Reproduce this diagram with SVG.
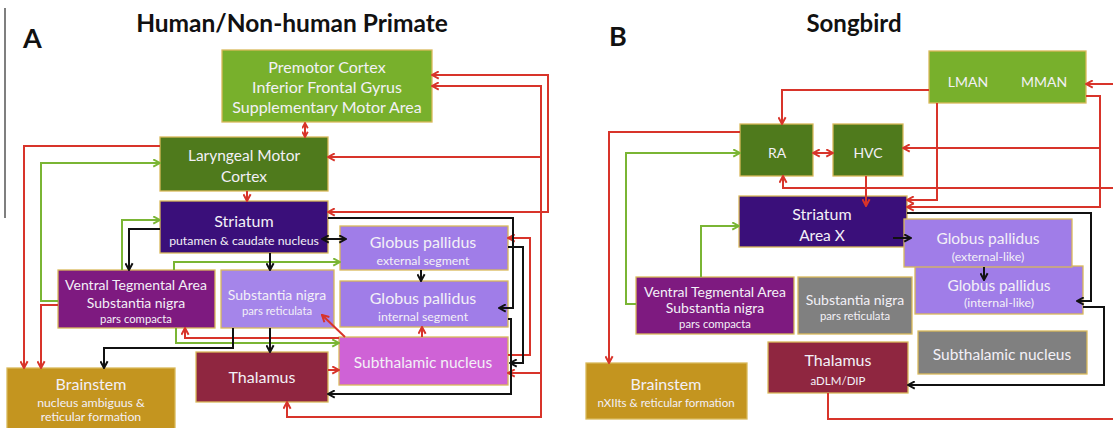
<svg xmlns="http://www.w3.org/2000/svg" width="1113" height="428" viewBox="0 0 1113 428">
<defs>
<style>
.box{stroke:#d9b95a;stroke-width:1.3}
.t{font-family:Lato,"Liberation Sans",sans-serif;fill:#f3f0f7;text-anchor:middle}
.s16{font-size:16px}
.s15{font-size:15.5px}
.s14{font-size:14px}
.s11{font-size:12.3px}
.s11b{font-size:11.5px}
.s10{font-size:11.3px}
.title{font-family:Lato,"Liberation Sans",sans-serif;font-weight:bold;fill:#111}
.r{fill:none;stroke:#d8342a;stroke-width:2}
.g{fill:none;stroke:#7ab534;stroke-width:2}
.k{fill:none;stroke:#111;stroke-width:2}
.r{marker-end:url(#mr)}
.g{marker-end:url(#mg)}
.k{marker-end:url(#mk)}
.nm{marker-end:none}
.rb{marker-start:url(#mr)}
.rs{marker-start:url(#mrs);marker-end:url(#mrs)}
.kb{marker-start:url(#mk)}
</style>
<marker id="mr" viewBox="0 0 10 10" refX="9" refY="5" markerWidth="9" markerHeight="9" markerUnits="userSpaceOnUse" orient="auto-start-reverse"><path d="M1.5,1 L9,5 L1.5,9" fill="none" stroke="#d8342a" stroke-width="2.2"/></marker>
<marker id="mrs" viewBox="0 0 10 10" refX="9" refY="5" markerWidth="7" markerHeight="7" markerUnits="userSpaceOnUse" orient="auto-start-reverse"><path d="M1.5,1 L9,5 L1.5,9" fill="none" stroke="#d8342a" stroke-width="2.6"/></marker>
<marker id="mg" viewBox="0 0 10 10" refX="9" refY="5" markerWidth="9" markerHeight="9" markerUnits="userSpaceOnUse" orient="auto-start-reverse"><path d="M1.5,1 L9,5 L1.5,9" fill="none" stroke="#7ab534" stroke-width="2.2"/></marker>
<marker id="mk" viewBox="0 0 10 10" refX="9" refY="5" markerWidth="9" markerHeight="9" markerUnits="userSpaceOnUse" orient="auto-start-reverse"><path d="M1.5,1 L9,5 L1.5,9" fill="none" stroke="#111" stroke-width="2.2"/></marker>
</defs>
<rect width="1113" height="428" fill="#fff"/>
<line x1="5" y1="8" x2="5" y2="218" stroke="#555" stroke-width="1.5"/>
<text class="title" x="23" y="48" font-size="27">A</text>
<text class="title" x="292" y="32" font-size="24.5" text-anchor="middle">Human/Non-human Primate</text>
<text class="title" x="609" y="46" font-size="27">B</text>
<text class="title" x="854" y="32" font-size="24" text-anchor="middle">Songbird</text>

<!-- Panel A nodes -->
<g id="a-premotor"><rect class="box" x="222" y="50" width="210" height="72" fill="#78b02c"/>
<text class="t s16" x="327" y="73">Premotor Cortex</text><text class="t s16" x="327" y="93">Inferior Frontal Gyrus</text><text class="t s16" x="327" y="113">Supplementary Motor Area</text></g>
<g id="a-laryngeal"><rect class="box" x="160" y="137" width="168" height="54" fill="#4f7a1c"/>
<text class="t s15" x="244" y="161">Laryngeal Motor</text><text class="t s15" x="244" y="182">Cortex</text></g>
<g id="a-striatum"><rect class="box" x="160" y="201" width="168" height="52" fill="#3a0f7a"/>
<text class="t s16" x="244" y="227">Striatum</text><text class="t s11" x="244" y="245">putamen &amp; caudate nucleus</text></g>
<g id="a-gpe"><rect class="box" x="340" y="226" width="168" height="44" fill="#a07de8"/>
<text class="t s16" x="423" y="248">Globus pallidus</text><text class="t s11" x="423" y="265">external segment</text></g>
<g id="a-gpi"><rect class="box" x="340" y="281" width="168" height="46" fill="#a07de8"/>
<text class="t s16" x="423" y="304">Globus pallidus</text><text class="t s11" x="423" y="321">internal segment</text></g>
<g id="a-snr"><rect class="box" x="221" y="270" width="113" height="58" fill="#a585ea"/>
<text class="t s14" x="277" y="300">Substantia nigra</text><text class="t s10" x="277" y="315">pars reticulata</text></g>
<g id="a-vta"><rect class="box" x="58" y="270" width="157" height="58" fill="#7e1a80"/>
<text class="t s14" x="136" y="290">Ventral Tegmental Area</text><text class="t s14" x="136" y="308">Substantia nigra</text><text class="t s10" x="136" y="323">pars compacta</text></g>
<g id="a-brainstem"><rect class="box" x="7" y="368" width="168" height="62" fill="#c4951f"/>
<text class="t s16" x="91" y="390">Brainstem</text><text class="t s11" x="91" y="407">nucleus ambiguus &amp;</text><text class="t s11" x="91" y="421">reticular formation</text></g>
<g id="a-thalamus"><rect class="box" x="196" y="352" width="132" height="50" fill="#8f2640"/>
<text class="t s16" x="262" y="383">Thalamus</text></g>
<g id="a-stn"><rect class="box" x="339" y="337" width="169" height="48" fill="#cf62d6"/>
<text class="t s15" x="423" y="368">Subthalamic nucleus</text></g>

<!-- Panel B nodes -->
<g id="b-lman"><rect class="box" x="929" y="51" width="157" height="52" fill="#78b02c"/>
<text class="t s14" x="968" y="87">LMAN</text><text class="t s14" x="1044" y="87">MMAN</text></g>
<g id="b-ra"><rect class="box" x="740" y="124" width="73" height="52" fill="#4f7a1c"/>
<text class="t s14" x="777" y="158">RA</text></g>
<g id="b-hvc"><rect class="box" x="833" y="124" width="70" height="52" fill="#4f7a1c"/>
<text class="t s14" x="868" y="158">HVC</text></g>
<g id="b-striatum"><rect class="box" x="739" y="196" width="168" height="51" fill="#3a0f7a"/>
<text class="t s16" x="822" y="220">Striatum</text><text class="t s15" x="822" y="241">Area X</text></g>
<g id="b-gpi"><rect class="box" x="915" y="266" width="168" height="48" fill="#a07de8"/>
<text class="t s15" x="999" y="291">Globus pallidus</text><text class="t s11" x="999" y="307">(internal-like)</text></g>
<g id="b-gpe"><rect class="box" x="904" y="219" width="168" height="48" fill="#a07de8"/>
<text class="t s15" x="988" y="244">Globus pallidus</text><text class="t s11" x="988" y="261">(external-like)</text></g>
<g id="b-vta"><rect class="box" x="636" y="277" width="158" height="57" fill="#7e1a80"/>
<text class="t s14" x="715" y="297">Ventral Tegmental Area</text><text class="t s14" x="715" y="313">Substantia nigra</text><text class="t s10" x="715" y="328">pars compacta</text></g>
<g id="b-snr"><rect class="box" x="798" y="277" width="114" height="57" fill="#808080"/>
<text class="t s14" x="855" y="305">Substantia nigra</text><text class="t s10" x="855" y="320">pars reticulata</text></g>
<g id="b-stn"><rect class="box" x="918" y="331" width="169" height="43" fill="#808080"/>
<text class="t s15" x="1002" y="360">Subthalamic nucleus</text></g>
<g id="b-thalamus"><rect class="box" x="768" y="342" width="140" height="51" fill="#8f2640"/>
<text class="t s16" x="838" y="366">Thalamus</text><text class="t s11b" x="838" y="385">aDLM/DIP</text></g>
<g id="b-brainstem"><rect class="box" x="586" y="363" width="161" height="56" fill="#c4951f"/>
<text class="t s16" x="666" y="390">Brainstem</text><text class="t s11b" x="666" y="407">nXIIts &amp; reticular formation</text></g>

<g id="connectors">
<!-- A red -->
<path class="r rs" d="M305,123 L305,137"/>
<path class="r" d="M247,191 L247,201"/>
<path class="r rb" d="M432,75 L548,75 L548,212 L328,212"/>
<path class="r rb" d="M432,86 L541,86 L541,417 L287,417 L287,402"/>
<path class="r" d="M541,157 L328,157"/>
<path class="r" d="M541,373 L508,373"/>
<path class="r" d="M508,355 L530,355 L530,238 L508,238"/>
<path class="r" d="M422,337 L422,327"/>
<path class="r" d="M345,337 L322,315"/>
<path class="r" d="M339,338 L185,338 L185,328"/>
<path class="r" d="M328,370 L339,370"/>
<path class="r" d="M160,146 L24,146 L24,368"/>
<path class="r" d="M58,305 L41,305 L41,368"/>
<!-- A green -->
<path class="g" d="M58,301 L41,301 L41,163 L160,163"/>
<path class="g" d="M122,270 L122,220 L160,220"/>
<path class="g" d="M174,270 L174,262 L340,262"/>
<path class="g" d="M176,328 L176,343 L339,343"/>
<!-- A black -->
<path class="k" d="M160,229 L129,229 L129,270"/>
<path class="k kb" d="M322,239 L346,239"/>
<path class="k" d="M270,253 L270,270"/>
<path class="k" d="M421,270 L421,281"/>
<path class="k" d="M328,218 L513,218 L513,308 L499,308"/>
<path class="k" d="M508,247 L523,247 L523,363 L510,363"/>
<path class="k" d="M508,319 L511,319 L511,394 L328,394"/>
<path class="k" d="M233,328 L233,348 L104,348 L104,368"/>
<path class="k" d="M270,328 L270,352"/>
<!-- B red -->
<path class="r" d="M929,90 L782,90 L782,124"/>
<path class="r rb" d="M813,153 L833,153"/>
<path class="r" d="M740,132 L609,132 L609,363"/>
<path class="r" d="M866,176 L866,206"/>
<path class="r" d="M937,103 L937,200 L907,200"/>
<path class="r" d="M1086,96 L1100,96 L1100,207 L907,207"/>
<path class="r" d="M1100,148 L903,148"/>
<path class="r" d="M1113,84 L1086,84"/>
<path class="r" d="M1113,188 L783,188 L783,176"/>
<path class="r nm" d="M828,393 L828,419 L1113,419"/>
<!-- B green -->
<path class="g" d="M636,304 L626,304 L626,153 L740,153"/>
<path class="g" d="M701,277 L701,226 L739,226"/>
<!-- B black -->
<path class="k" d="M893,238 L911,238"/>
<path class="k" d="M984,267 L984,280"/>
<path class="k" d="M907,213 L1091,213 L1091,301 L1077,301"/>
<path class="k" d="M1083,307 L1104,307 L1104,385 L908,385"/>
</g>
</svg>
